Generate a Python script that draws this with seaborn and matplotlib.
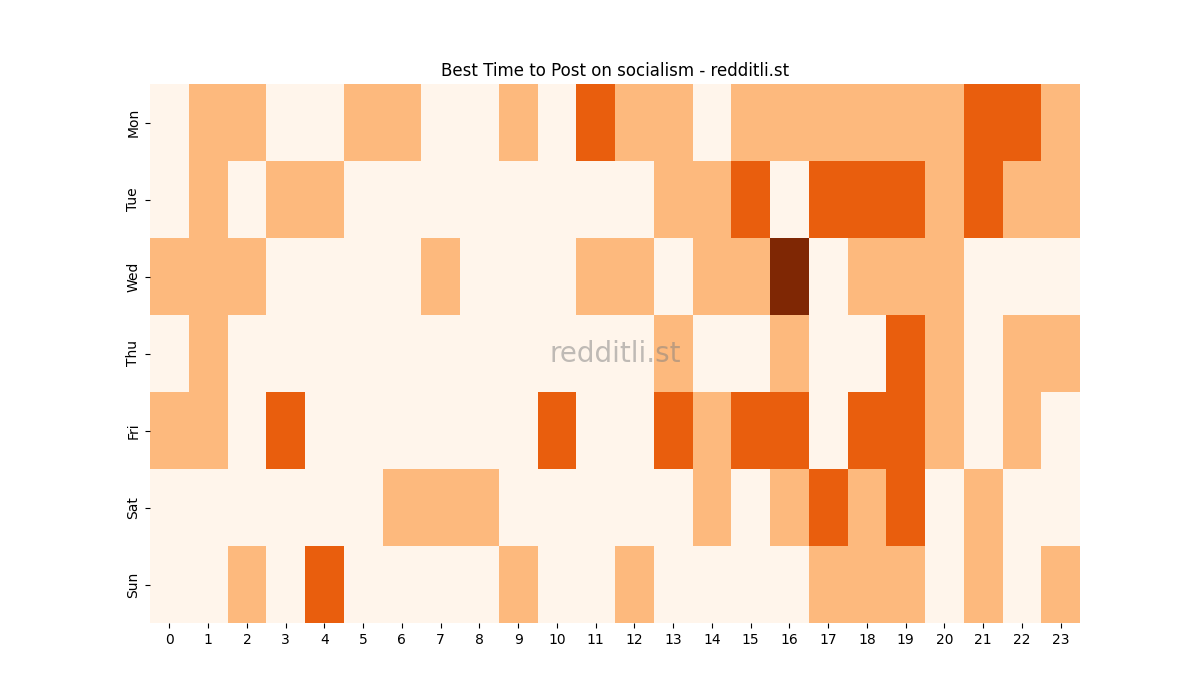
import matplotlib
matplotlib.use("Agg")
import matplotlib.pyplot as plt
import seaborn as sns
import pandas as pd

days = ["Mon", "Tue", "Wed", "Thu", "Fri", "Sat", "Sun"]
hours = list(range(24))
mon = [0,1,1,0,0,1,1,0,0,1,0,2,1,1,0,1,1,1,1,1,1,2,2,1]
tue = [0,1,0,1,1,0,0,0,0,0,0,0,0,1,1,2,0,2,2,2,1,2,1,1]
wed = [1,1,1,0,0,0,0,1,0,0,0,1,1,0,1,1,3,0,1,1,1,0,0,0]
thu = [0,1,0,0,0,0,0,0,0,0,0,0,0,1,0,0,1,0,0,2,1,0,1,1]
fri = [1,1,0,2,0,0,0,0,0,0,2,0,0,2,1,2,2,0,2,2,1,0,1,0]
sat = [0,0,0,0,0,0,1,1,1,0,0,0,0,0,1,0,1,2,1,2,0,1,0,0]
sun = [0,0,1,0,2,0,0,0,0,1,0,0,1,0,0,0,0,1,1,1,0,1,0,1]

df = pd.DataFrame([mon, tue, wed, thu, fri, sat, sun], index=days, columns=hours)

fig = plt.figure(figsize=(12, 7), dpi=100)
ax = fig.add_subplot(111)
sns.heatmap(df, cmap="Oranges", vmin=0, vmax=3, cbar=False, ax=ax)
ax.set_title("Best Time to Post on socialism - redditli.st")
ax.text(0.5, 0.5, "redditli.st", transform=ax.transAxes, ha="center", va="center",
        fontsize=20, color="gray", alpha=0.5)
fig.savefig("out.png", dpi=100)
